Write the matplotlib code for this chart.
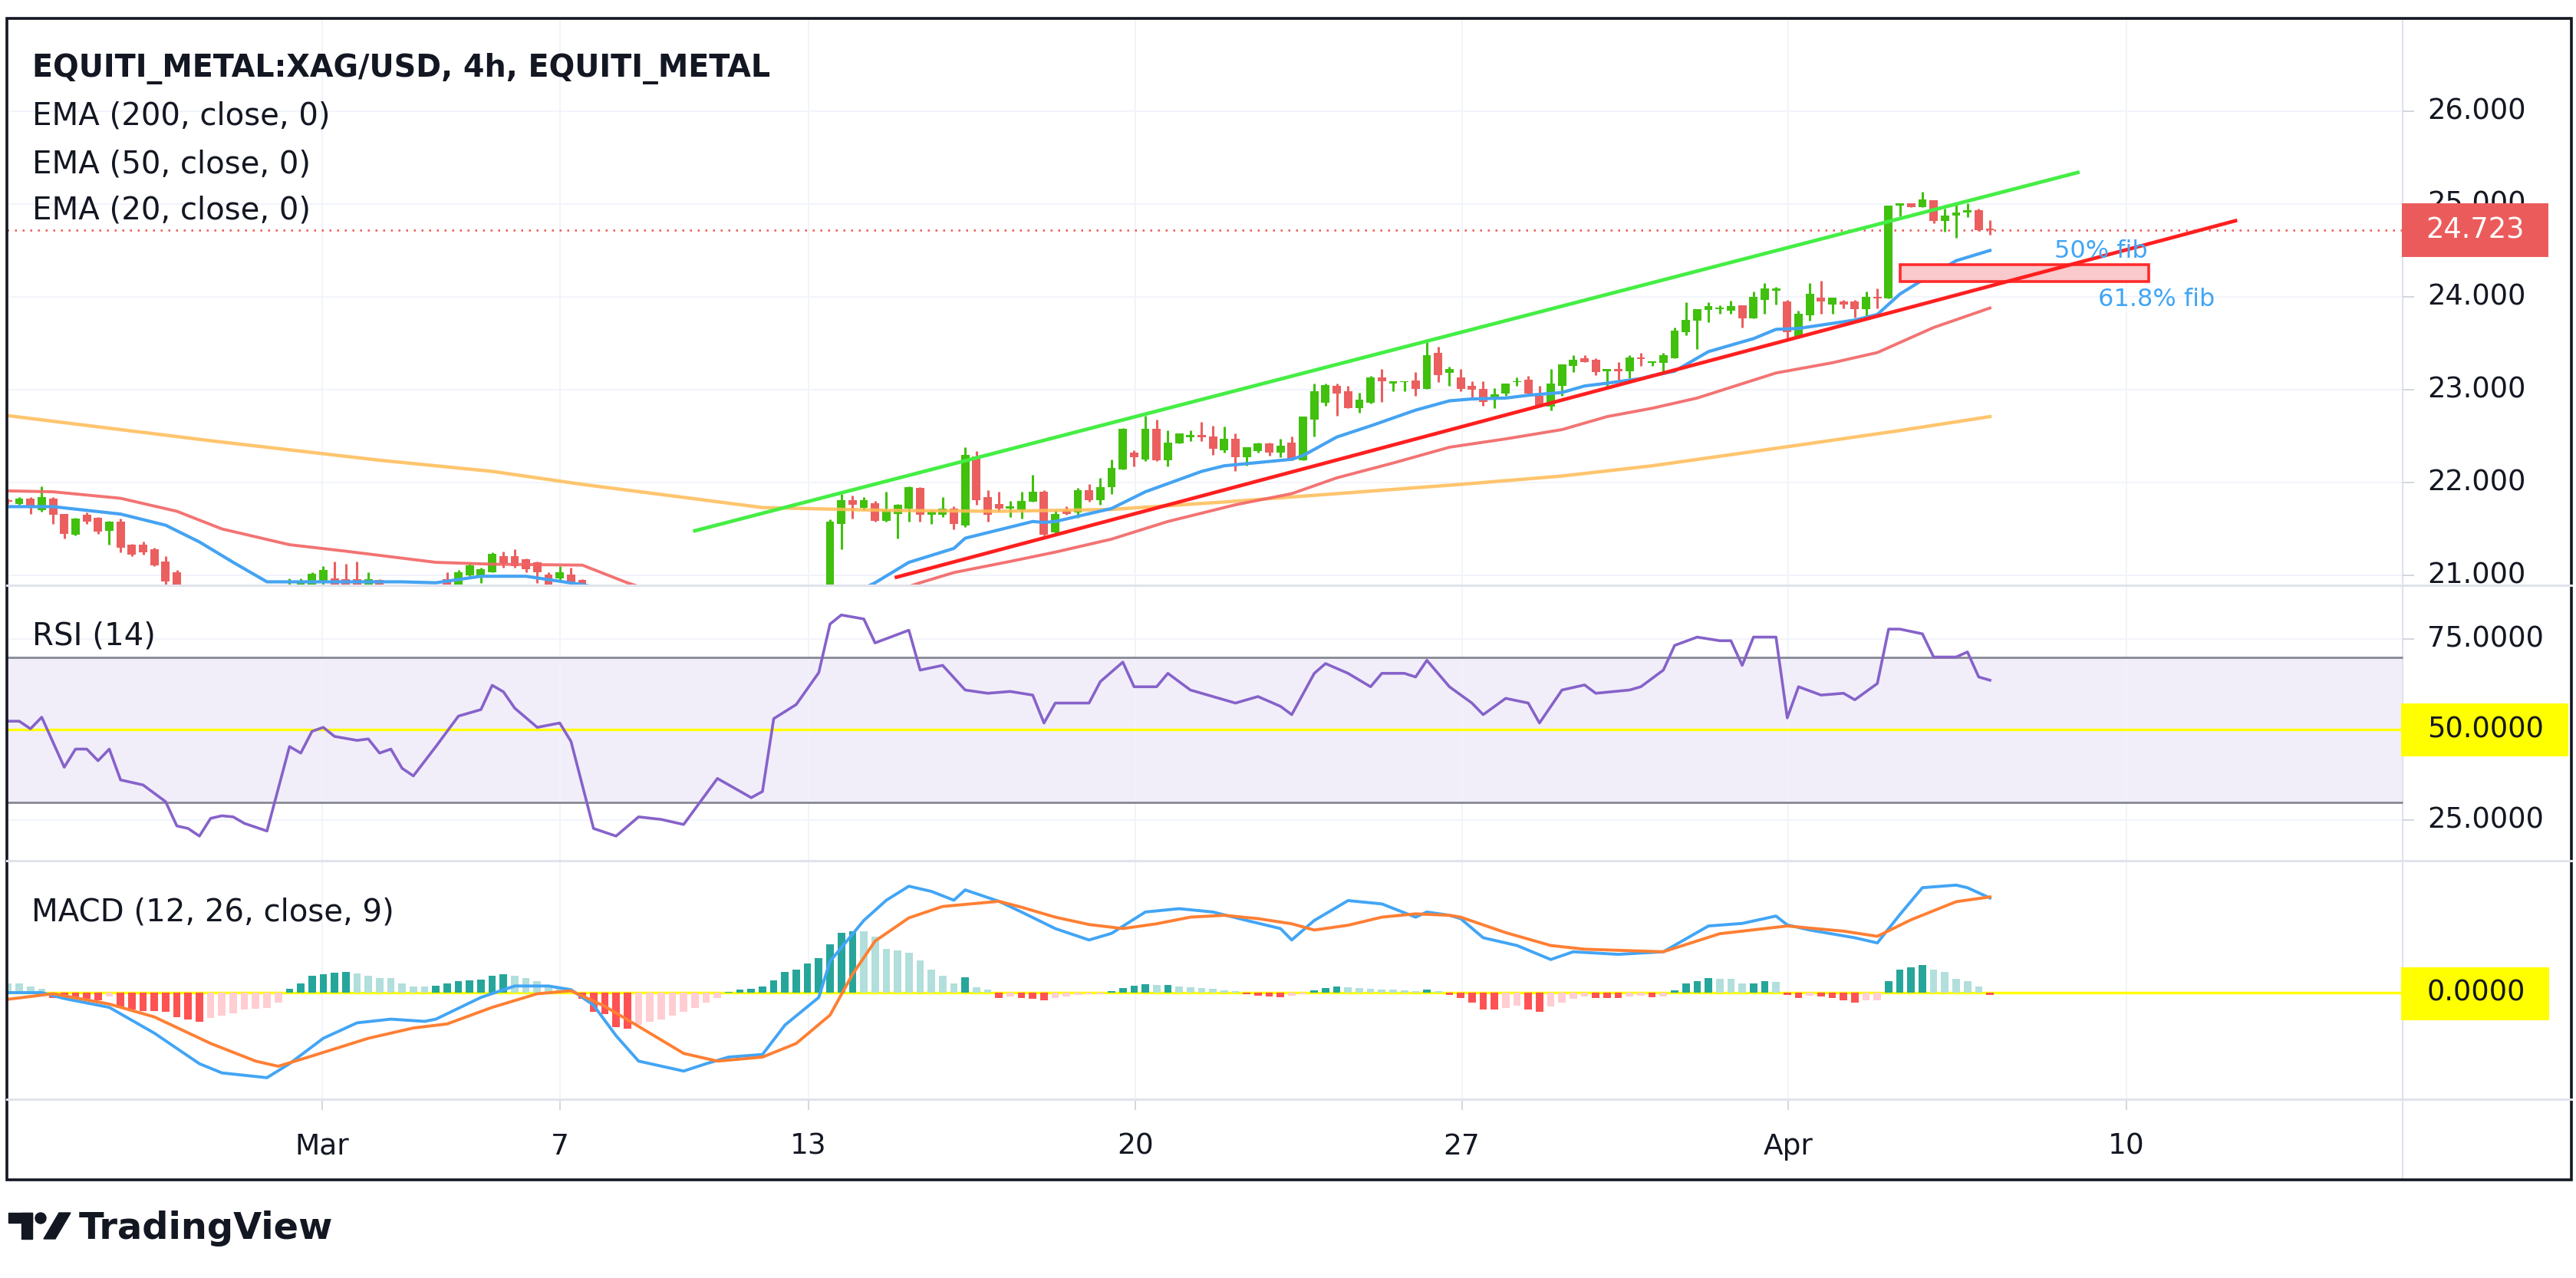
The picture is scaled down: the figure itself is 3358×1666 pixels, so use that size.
import matplotlib
matplotlib.use("Agg")
import matplotlib.pyplot as plt
from matplotlib.patches import Rectangle, Polygon, Circle
import numpy as np

W, H = 3358, 1666
BAR0, BARW = -19.0, 14.68   # pixel x of bar 0 and width of one 4h bar


def bx(px):
    # pixel x -> bar units
    return (px - BAR0) / BARW


X0, X1 = bx(9), bx(3352)
XR = bx(3132)   # border of the right price scale

TXT = "#131722"
GRID = "#f0f3fa"
GREEN = "#41c00e"
RED = "#eb5f5f"

# ---------------- data ----------------
xtick_pos = [29.9, 51.0, 73.1, 102.1, 131.1, 160.1, 190.1]
xtick_lab = ["Mar", "7", "13", "20", "27", "Apr", "10"]
price_ticks = [21, 22, 23, 24, 25, 26]
last_price = 24.723

# 4h candles (bars hidden below the visible price range are left out)
candle_idx = list(range(2, 18)) + list(range(27, 36)) + list(range(41, 54)) + list(range(75, 179))
opens = [21.81, 21.77, 21.83, 21.70, 21.83, 21.66, 21.44, 21.65, 21.62, 21.48, 21.58, 21.33, 21.33, 21.28, 21.15, 21.03,
         20.80, 20.84, 20.90, 20.94, 20.97, 20.96, 20.96, 20.88, 20.95,
         20.96, 20.88, 21.00, 20.98, 21.03, 21.21, 21.21, 21.17, 21.14, 21.01, 20.97, 21.01, 20.95,
         20.60, 21.55, 21.81, 21.73, 21.78, 21.59, 21.66, 21.72, 21.94, 21.65, 21.65, 21.72, 21.54, 22.28, 21.84, 21.77,
         21.72, 21.70, 21.79, 21.90, 21.46, 21.70, 21.68, 21.92, 21.81, 21.95, 22.14, 22.32, 22.25, 22.58, 22.24, 22.42,
         22.49, 22.51, 22.50, 22.35, 22.47,
         22.27, 22.34, 22.42, 22.32, 22.43, 22.24, 22.68, 22.86, 23.04, 22.98, 22.80, 22.86, 23.13, 23.07, 23.08, 23.10,
         23.01, 23.40, 23.18, 23.13, 23.04, 23.01, 22.90, 22.96, 23.08, 23.11, 22.93, 22.82, 23.04, 23.26, 23.34, 23.32,
         23.20, 23.22, 23.20, 23.34, 23.29,
         23.29, 23.34, 23.62, 23.74, 23.86, 23.87, 23.85, 23.91, 23.77, 23.97, 24.07, 23.95, 23.56, 23.80, 23.99, 23.92,
         23.95, 23.95, 23.87, 24.00, 23.98, 24.98, 25.01, 24.97, 25.04, 24.82, 24.88, 24.91, 24.93, 24.73]
highs = [21.83, 21.84, 21.84, 21.96, 21.84, 21.66, 21.62, 21.68, 21.63, 21.59, 21.61, 21.34, 21.36, 21.30, 21.21, 21.06,
         20.97, 20.97, 21.03, 21.10, 21.15, 21.12, 21.15, 21.03, 20.96,
         21.03, 21.06, 21.12, 21.08, 21.25, 21.26, 21.28, 21.18, 21.15, 21.03, 21.10, 21.08, 20.96,
         21.60, 21.88, 21.86, 21.84, 21.80, 21.90, 21.77, 21.96, 21.95, 21.70, 21.84, 21.74, 22.38, 22.34, 21.92, 21.90,
         21.80, 21.90, 22.08, 21.92, 21.70, 21.74, 21.94, 21.98, 22.05, 22.25, 22.59, 22.35, 22.72, 22.68, 22.56, 22.53,
         22.56, 22.65, 22.61, 22.60, 22.53,
         22.38, 22.43, 22.43, 22.47, 22.50, 22.71, 23.07, 23.07, 23.07, 23.04, 22.97, 23.15, 23.22, 23.09, 23.09, 23.19,
         23.52, 23.46, 23.25, 23.22, 23.09, 23.09, 23.02, 23.07, 23.13, 23.15, 23.04, 23.22, 23.27, 23.37, 23.37, 23.34,
         23.22, 23.30, 23.37, 23.40, 23.30,
         23.40, 23.67, 23.94, 23.87, 23.94, 23.91, 23.96, 23.91, 24.06, 24.15, 24.11, 23.97, 23.85, 24.15, 24.17, 23.99,
         23.97, 23.97, 24.06, 24.09, 24.98, 25.01, 25.01, 25.13, 25.04, 24.95, 25.01, 25.01, 24.95, 24.83]
lows = [21.77, 21.76, 21.66, 21.69, 21.55, 21.40, 21.43, 21.55, 21.45, 21.33, 21.25, 21.21, 21.22, 21.10, 20.85, 20.70,
        20.75, 20.80, 20.86, 20.90, 20.85, 20.84, 20.82, 20.84, 20.82,
        20.85, 20.86, 20.99, 20.92, 21.03, 21.08, 21.08, 21.03, 20.92, 20.85, 20.95, 20.88, 20.80,
        20.55, 21.28, 21.61, 21.70, 21.58, 21.58, 21.40, 21.58, 21.58, 21.55, 21.63, 21.50, 21.52, 21.76, 21.58, 21.69,
        21.63, 21.61, 21.79, 21.43, 21.45, 21.65, 21.62, 21.79, 21.76, 21.88, 22.14, 22.17, 22.23, 22.23, 22.17, 22.42,
        22.45, 22.45, 22.30, 22.32, 22.12,
        22.18, 22.32, 22.29, 22.27, 22.24, 22.24, 22.50, 22.83, 22.72, 22.80, 22.75, 22.85, 22.87, 22.98, 22.98, 22.93,
        23.01, 23.08, 23.04, 22.98, 22.91, 22.83, 22.80, 22.93, 23.04, 22.96, 22.82, 22.78, 22.93, 23.19, 23.30, 23.16,
        23.02, 23.09, 23.12, 23.26, 23.26,
        23.18, 23.34, 23.59, 23.44, 23.73, 23.82, 23.82, 23.67, 23.77, 23.82, 23.92, 23.55, 23.55, 23.74, 23.82, 23.82,
        23.88, 23.78, 23.78, 23.88, 23.98, 24.87, 24.97, 24.97, 24.79, 24.70, 24.64, 24.86, 24.71, 24.67]
closes = [21.79, 21.83, 21.73, 21.84, 21.65, 21.45, 21.61, 21.58, 21.47, 21.58, 21.30, 21.22, 21.25, 21.11, 20.93, 20.80,
          20.88, 20.92, 21.02, 21.06, 20.90, 20.88, 20.86, 20.96, 20.86,
          20.88, 21.03, 21.11, 21.07, 21.23, 21.12, 21.10, 21.07, 21.03, 20.90, 21.03, 20.92, 20.85,
          21.58, 21.81, 21.76, 21.81, 21.59, 21.70, 21.76, 21.95, 21.65, 21.69, 21.72, 21.55, 22.30, 21.81, 21.65, 21.72,
          21.74, 21.80, 21.90, 21.44, 21.66, 21.66, 21.92, 21.81, 21.95, 22.16, 22.58, 22.27, 22.58, 22.24, 22.43, 22.53,
          22.51, 22.49, 22.36, 22.47, 22.27,
          22.38, 22.42, 22.32, 22.40, 22.25, 22.71, 22.98, 23.05, 22.96, 22.80, 22.89, 23.13, 23.09, 23.09, 23.09, 23.01,
          23.37, 23.16, 23.22, 23.01, 23.00, 22.87, 22.95, 23.07, 23.09, 22.96, 22.82, 23.07, 23.27, 23.32, 23.30, 23.19,
          23.22, 23.20, 23.35, 23.33, 23.30,
          23.37, 23.64, 23.75, 23.87, 23.90, 23.88, 23.90, 23.77, 24.00, 24.09, 24.09, 23.62, 23.82, 24.03, 23.95, 23.99,
          23.92, 23.87, 24.00, 23.98, 24.98, 25.01, 24.97, 25.05, 24.82, 24.88, 24.91, 24.93, 24.72, 24.723]

ema20_i = [2, 6, 12, 16, 19, 22, 25, 30, 37, 40, 44, 48, 53, 57, 77, 79, 82, 86, 87, 93, 94, 95, 100, 103, 108, 110,
           116, 117, 120, 123, 127, 130, 132, 135, 137, 140, 142, 144, 147, 148, 150, 153, 157, 159, 161, 166, 168,
           170, 172, 175, 178]
ema20_v = [21.74, 21.74, 21.66, 21.54, 21.36, 21.14, 20.93, 20.93, 20.93, 20.92, 20.99, 20.99, 20.90, 20.80, 20.80,
           20.92, 21.14, 21.29, 21.40, 21.58, 21.57, 21.58, 21.72, 21.90, 22.12, 22.18, 22.25, 22.29, 22.49, 22.61,
           22.78, 22.88, 22.90, 22.91, 22.94, 22.97, 23.04, 23.07, 23.12, 23.15, 23.20, 23.41, 23.55, 23.65, 23.66,
           23.75, 23.81, 24.03, 24.18, 24.39, 24.50]
ema50_i = [2, 6, 12, 17, 21, 27, 32, 40, 45, 53, 57, 60, 80, 83, 86, 91, 95, 100, 105, 111, 116, 120, 125, 130, 135,
           140, 144, 148, 152, 159, 164, 168, 173, 178]
ema50_v = [21.91, 21.90, 21.83, 21.69, 21.50, 21.33, 21.26, 21.14, 21.12, 21.11, 20.92, 20.80, 20.80, 20.92, 21.03,
           21.15, 21.25, 21.39, 21.58, 21.76, 21.88, 22.05, 22.21, 22.38, 22.47, 22.57, 22.71, 22.80, 22.91, 23.18,
           23.29, 23.40, 23.67, 23.88]
ema200_i = [2, 10, 20, 30, 35, 45, 53, 62, 69, 80, 90, 100, 110, 120, 131, 140, 148, 155, 162, 170, 178]
ema200_v = [22.72, 22.60, 22.45, 22.31, 22.24, 22.12, 21.98, 21.84, 21.73, 21.70, 21.69, 21.71, 21.79, 21.88, 21.98,
            22.07, 22.18, 22.30, 22.42, 22.56, 22.71]

# drawn channel + fib zone
green_x, green_y = [63.0, 185.8], [21.48, 25.34]
red_x, red_y = [80.9, 199.8], [20.98, 24.82]
fib_x, fib_y = [170.0, 192.1], [24.165, 24.35]

rsi_i = [2, 3, 4, 5, 7, 8, 9, 10, 11, 12, 14, 16, 17, 18, 19, 20, 21, 22, 23, 25, 27, 28, 29, 30, 31, 33, 34, 35, 36,
         37, 38, 40, 42, 44, 45, 46, 47, 49, 51, 52, 54, 56, 58, 60, 62, 65, 68, 69, 70, 72, 74, 75, 76, 78, 79, 82,
         83, 85, 87, 89, 91, 93, 94, 95, 98, 99, 101, 102, 104, 105, 107, 109, 111, 113, 115, 116, 118, 119, 121,
         123, 124, 126, 127, 128, 130, 132, 133, 135, 137, 138, 140, 142, 143, 146, 147, 149, 150, 152, 154, 155,
         156, 157, 159, 160, 161, 163, 165, 166, 168, 169, 170, 172, 173, 175, 176, 177, 178]
rsi_v = [52.3, 52.3, 50.2, 53.4, 39.6, 44.6, 44.6, 41.4, 44.6, 36.1, 34.7, 30.1, 23.4, 22.7, 20.6, 25.5, 26.2, 25.9,
         24.1, 22.0, 45.3, 43.5, 49.5, 50.6, 48.1, 47.0, 47.4, 43.5, 44.6, 39.3, 37.2, 45.3, 53.7, 55.5, 62.2, 60.4,
         55.9, 50.6, 51.8, 46.7, 22.7, 20.6, 25.9, 25.2, 23.8, 36.5, 31.2, 32.9, 53.0, 56.9, 65.7, 79.1, 81.6, 80.5,
         73.9, 77.4, 66.4, 67.7, 60.9, 60.0, 60.5, 59.5, 51.8, 57.3, 57.3, 63.2, 68.6, 61.8, 61.8, 65.5, 60.9, 59.1,
         57.3, 59.1, 56.4, 54.1, 65.5, 68.2, 65.5, 61.8, 65.5, 65.5, 64.5, 69.1, 61.8, 57.3, 54.1, 58.6, 57.3, 51.8,
         60.9, 62.3, 60.0, 60.9, 61.8, 66.4, 73.2, 75.5, 74.5, 74.5, 67.7, 75.5, 75.5, 53.2, 61.8, 59.5, 60.0, 58.2,
         62.7, 77.7, 77.7, 76.4, 70.0, 70.0, 71.4, 64.5, 63.6]

macd_i = [2, 5, 7, 11, 15, 19, 21, 25, 27, 30, 33, 36, 39, 40, 44, 47, 50, 52, 54, 56, 58, 62, 64, 66, 69, 71, 74, 75,
          78, 80, 82, 84, 86, 87, 90, 92, 95, 98, 100, 103, 106, 109, 112, 115, 116, 118, 121, 124, 127, 128, 130,
          131, 133, 136, 139, 141, 145, 149, 153, 156, 159, 160, 162, 166, 168, 170, 172, 175, 176, 178]
macd_v = [0.0, 0.0, -0.016, -0.04, -0.11, -0.193, -0.218, -0.231, -0.193, -0.124, -0.082, -0.072, -0.078, -0.072,
          -0.013, 0.018, 0.018, 0.008, -0.034, -0.117, -0.186, -0.213, -0.193, -0.175, -0.168, -0.088, -0.013, 0.085,
          0.196, 0.251, 0.289, 0.275, 0.251, 0.279, 0.248, 0.219, 0.174, 0.143, 0.161, 0.219, 0.228, 0.219, 0.196,
          0.174, 0.143, 0.196, 0.250, 0.241, 0.205, 0.219, 0.210, 0.201, 0.149, 0.128, 0.090, 0.111, 0.104, 0.111,
          0.181, 0.188, 0.208, 0.184, 0.170, 0.149, 0.135, 0.212, 0.285, 0.292, 0.285, 0.257]
signal_i = [2, 6, 11, 15, 20, 24, 26, 29, 34, 38, 41, 45, 49, 52, 55, 59, 62, 65, 69, 72, 75, 77, 79, 82, 85, 90, 92,
            95, 98, 101, 104, 107, 110, 113, 116, 118, 121, 124, 127, 130, 131, 135, 139, 142, 149, 154, 160, 165,
            168, 171, 175, 178]
signal_v = [-0.018, -0.003, -0.031, -0.066, -0.138, -0.186, -0.200, -0.172, -0.124, -0.096, -0.085, -0.040, -0.003,
            0.005, -0.037, -0.110, -0.165, -0.186, -0.175, -0.138, -0.061, 0.050, 0.140, 0.203, 0.234, 0.248, 0.232,
            0.205, 0.185, 0.174, 0.187, 0.205, 0.210, 0.201, 0.187, 0.170, 0.183, 0.205, 0.214, 0.210, 0.205, 0.163,
            0.128, 0.118, 0.111, 0.160, 0.181, 0.167, 0.153, 0.198, 0.247, 0.260]
# histogram, one value per bar from bar 2 to bar 178
hist_v = [0.024, 0.024, 0.017, 0.010, -0.014, -0.014, -0.017, -0.017, -0.021, -0.010,
          -0.042, -0.045, -0.049, -0.049, -0.052, -0.066, -0.073, -0.080,
          -0.069, -0.062, -0.056, -0.045, -0.043, -0.041, -0.028,
          0.010, 0.024, 0.045, 0.049, 0.055, 0.057, 0.052, 0.045, 0.040, 0.040, 0.024, 0.017, 0.017,
          0.018, 0.024, 0.031, 0.033, 0.035, 0.045, 0.049, 0.045, 0.040, 0.031, 0.021, 0.014, 0.007,
          -0.017, -0.052, -0.059, -0.094, -0.097, -0.087, -0.080, -0.073, -0.062, -0.052, -0.042, -0.028, -0.014,
          0.003, 0.008, 0.010, 0.017, 0.033, 0.056, 0.063, 0.080, 0.094, 0.132, 0.163, 0.167,
          0.167, 0.153, 0.118, 0.115, 0.108, 0.087, 0.063, 0.045, 0.024, 0.042, 0.014, 0.009, -0.014,
          -0.010, -0.014, -0.017, -0.021, -0.014, -0.010, -0.007, -0.005, -0.004, 0.005, 0.012, 0.018, 0.022, 0.020,
          0.021, 0.017, 0.014, 0.012, 0.010, 0.007, 0.004, -0.004, -0.008, -0.010, -0.012, -0.008, -0.004, 0.007,
          0.012, 0.016, 0.015, 0.013, 0.011, 0.009, 0.008, 0.006, 0.004, 0.008, 0.004, -0.006,
          -0.014, -0.028, -0.045, -0.045, -0.042, -0.035, -0.045, -0.052, -0.038, -0.028, -0.017, -0.010, -0.014,
          -0.014, -0.015, -0.010, -0.009, -0.013, -0.010, 0.007, 0.024, 0.031, 0.040, 0.038, 0.037, 0.024, 0.025,
          0.031, 0.030, -0.007, -0.014, -0.008, -0.010, -0.014, -0.021, -0.028, -0.021, -0.020, 0.031, 0.063,
          0.069, 0.076, 0.063, 0.056, 0.038, 0.031, 0.017, -0.006]
hist_i = list(range(2, 2 + len(hist_v)))

# ---------------- figure ----------------
fig = plt.figure(figsize=(W / 100, H / 100), dpi=100)
fig.patch.set_facecolor("white")


def panel(y0, y1):
    ax = fig.add_axes([9 / W, 1 - y1 / H, (3352 - 9) / W, (y1 - y0) / H])
    ax.set_xlim(X0, X1)
    ax.set_axis_off()
    return ax


def vgrid(ax):
    for x in xtick_pos:
        ax.axvline(x, color=GRID, lw=1.3, zorder=0.5)
    ax.axvline(XR, color="#e0e3eb", lw=1.5, zorder=1)


# price panel
axp = panel(24, 763)
axp.set_ylim(21 - 13 / 121, 21 + 726 / 121)
vgrid(axp)
for p in price_ticks:
    axp.hlines(p, X0, XR, color=GRID, lw=1.3, zorder=0.5)
    axp.hlines(p, XR, XR + 1.0, color="#d1d4dc", lw=1.3)
    axp.text(bx(3164), p, f"{p:.3f}", ha="left", va="center", fontsize=26.5, color=TXT, clip_on=True)

o, hi, lo, c = map(np.array, (opens, highs, lows, closes))
cols = np.where(c >= o, GREEN, RED)
axp.vlines(candle_idx, lo, hi, colors=cols, lw=2.2, zorder=3)
axp.bar(candle_idx, np.maximum(np.abs(c - o), 0.014), bottom=np.minimum(o, c), width=0.74, color=cols, zorder=3)

axp.plot(ema200_i, ema200_v, color="#ffbb55", lw=3.2, alpha=0.85, zorder=4)
axp.plot(ema50_i, ema50_v, color="#f26464", lw=2.8, alpha=0.9, zorder=4)
axp.plot(ema20_i, ema20_v, color="#45a3f2", lw=3.0, zorder=4)

axp.add_patch(Rectangle((fib_x[0], fib_y[0]), fib_x[1] - fib_x[0], fib_y[1] - fib_y[0],
                        facecolor="#f9c9cc", edgecolor="#ff2a2a", lw=2.6, zorder=4.5))
axp.plot(green_x, green_y, color="#44ee44", lw=3.4, zorder=5)
axp.plot(red_x, red_y, color="#ff1f1f", lw=3.4, zorder=5)
axp.text(fib_x[1] - 0.1, 24.49, "50% fib", color="#42a5f5", fontsize=23, ha="right", va="center", zorder=6)
axp.text(187.6, 23.975, "61.8% fib", color="#42a5f5", fontsize=23, ha="left", va="center", zorder=6)

axp.plot([X0, XR], [last_price, last_price], color="#ef5350", lw=1.8, ls=(0, (1, 3)), zorder=2)
axp.add_patch(Rectangle((bx(3131), last_price - 0.29), bx(3322) - bx(3131), 0.575,
                        facecolor="#ec5b5b", edgecolor="none", zorder=7))
axp.text(bx(3227), last_price, f"{last_price:.3f}", color="white", ha="center", va="center",
         fontsize=26.5, zorder=8)

# RSI panel
axr = panel(763, 1122)
axr.set_ylim(50 - (1122 - 951) / 4.725, 50 + (951 - 763) / 4.725)
axr.fill_between([X0, XR], 30, 70, color="#f1eefa", zorder=0)
vgrid(axr)
for v in (25, 75):
    axr.hlines(v, X0, XR, color=GRID, lw=1.3, zorder=0.5)
    axr.hlines(v, XR, XR + 1.0, color="#d1d4dc", lw=1.3)
    axr.text(bx(3164), v, f"{v:.4f}", ha="left", va="center", fontsize=26.5, color=TXT)
axr.hlines([30, 70], X0, XR, color="#868993", lw=2.0, zorder=1)
axr.hlines(50, X0, XR, color="#ffff00", lw=2.4, zorder=1)
axr.plot(rsi_i, rsi_v, color="#8662c9", lw=2.6, zorder=3)
axr.add_patch(Rectangle((bx(3130), 42.6), bx(3348) - bx(3130), 14.6, facecolor="#ffff00", edgecolor="none", zorder=4))
axr.text(bx(3164), 50, "50.0000", ha="left", va="center", fontsize=26.5, color=TXT, zorder=5)

# MACD panel
axm = panel(1122, 1433)
axm.set_ylim(-(1433 - 1294) / 480, (1294 - 1122) / 480)
vgrid(axm)
axm.hlines(0, X0, XR, color="#ffff00", lw=2.4, zorder=1)
hv = np.array(hist_v)
prev = np.concatenate([[hv[0]], hv[:-1]])
hcols = np.where(hv >= 0, np.where(hv > prev, "#26a69a", "#b2dfdb"),
                 np.where(hv > prev, "#ffcdd2", "#ff5252"))
axm.bar(hist_i, hv, width=0.66, color=hcols, zorder=2)
axm.plot(macd_i, macd_v, color="#42a5f5", lw=2.8, zorder=3)
axm.plot(signal_i, signal_v, color="#ff7f33", lw=2.8, zorder=3)
axm.add_patch(Rectangle((bx(3130), -0.075), bx(3323) - bx(3130), 0.144, facecolor="#ffff00", edgecolor="none", zorder=4))
axm.text(bx(3164), 0, "0.0000", ha="left", va="center", fontsize=26.5, color=TXT, zorder=5)

# time axis strip
axx = panel(1433, 1538)
axx.set_ylim(1538, 1433)
axx.vlines(xtick_pos, 1433, 1447, color="#d1d4dc", lw=1.3)
axx.axvline(XR, color="#e0e3eb", lw=1.5)
for x, lab in zip(xtick_pos, xtick_lab):
    axx.text(x, 1505, lab, ha="center", va="baseline", fontsize=27, color=TXT)

# overlay in pixel coordinates: frame, separators, legend texts, logo
ov = fig.add_axes([0, 0, 1, 1], zorder=10)
ov.set_xlim(0, W)
ov.set_ylim(H, 0)
ov.set_axis_off()
ov.patch.set_alpha(0)
for y in (763, 1122, 1433):
    ov.plot([9, 3352], [y, y], color="#e0e3eb", lw=2.2)
ov.add_patch(Rectangle((9, 24), 3343, 1514, fill=False, edgecolor=TXT, lw=2.6))

ov.text(42, 100, "EQUITI_METAL:XAG/USD, 4h, EQUITI_METAL", fontsize=28.5, fontweight="bold", color=TXT, va="baseline")
for y, s in ((162, "EMA (200, close, 0)"), (225, "EMA (50, close, 0)"), (285, "EMA (20, close, 0)")):
    ov.text(42, y, s, fontsize=29, color=TXT, va="baseline")
ov.text(42, 840, "RSI (14)", fontsize=29, color=TXT, va="baseline")
ov.text(41, 1200, "MACD (12, 26, close, 9)", fontsize=29, color=TXT, va="baseline")

# TradingView logo
ov.add_patch(Rectangle((11, 1581), 31, 13, color=TXT))
ov.add_patch(Rectangle((28, 1581), 14, 34, color=TXT))
ov.add_patch(Circle((53, 1588), 7, color=TXT))
ov.add_patch(Polygon([[57, 1615], [72, 1615], [92, 1581], [77, 1581]], closed=True, color=TXT))
ov.text(103, 1615, "TradingView", fontsize=34.5, fontweight="bold", color=TXT, va="baseline")

fig.savefig("out.png", dpi=100, facecolor="white")
